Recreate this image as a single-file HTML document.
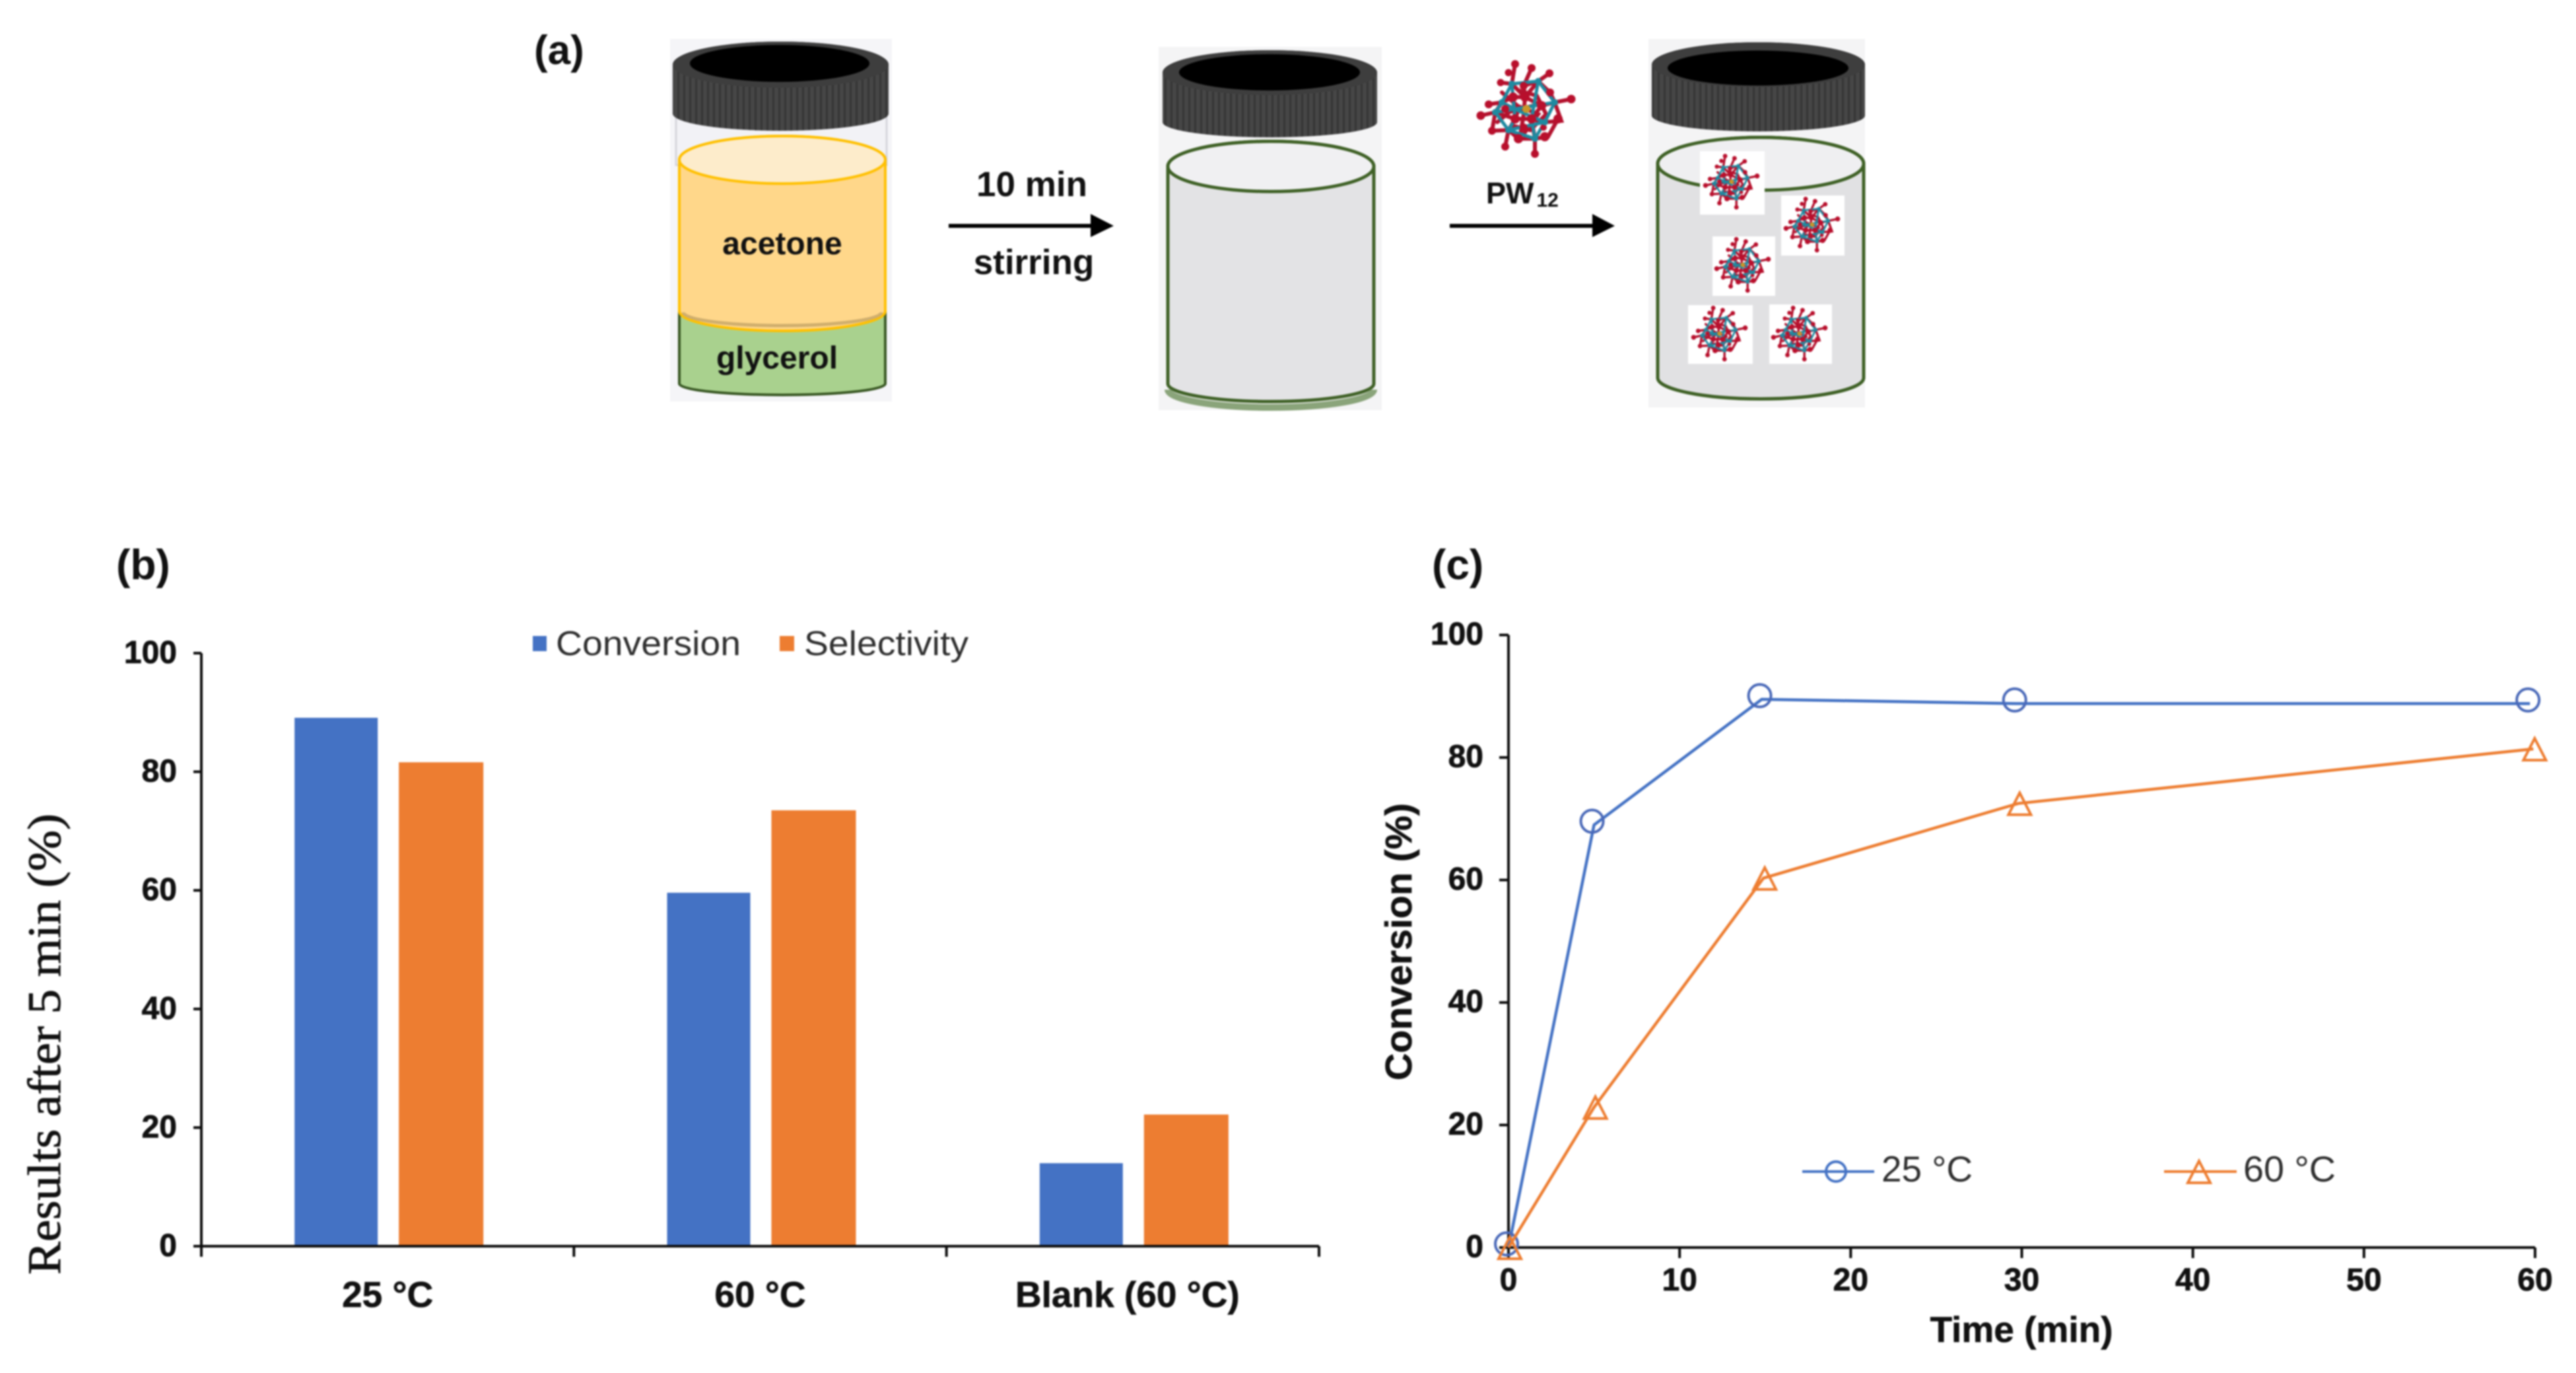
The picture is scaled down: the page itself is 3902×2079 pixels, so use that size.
<!DOCTYPE html>
<html lang="en">
<head>
<meta charset="utf-8">
<title>Glycerol acetalization scheme and results</title>
<style>
html,body{margin:0;padding:0;background:#fff;}
body{width:3902px;height:2079px;overflow:hidden;}
#figure{display:block;filter:blur(1.2px);}
text{font-family:"Liberation Sans",sans-serif;}
.tick{font-weight:bold;font-size:48px;fill:#111;stroke:#111;stroke-width:.8px;}
.cat{font-weight:bold;font-size:55px;fill:#111;stroke:#111;stroke-width:.6px;}
.lbl{font-weight:bold;fill:#111;stroke:#111;stroke-width:.6px;}
.leg{font-size:52px;fill:#2f2f2f;}
</style>
</head>
<body>
<svg id="figure" xmlns="http://www.w3.org/2000/svg" width="3902" height="2079" viewBox="0 0 3902 2079">
<defs>
  <pattern id="cap-ribs" width="9" height="10" patternUnits="userSpaceOnUse">
    <rect width="9" height="10" fill="#474747"/>
    <rect width="3" height="10" fill="#353535"/>
  </pattern>
  <symbol id="pw12-molecule" viewBox="0 0 170 165">
    <g fill="none" stroke="#b3122e" stroke-width="6" stroke-linecap="round">
      <path d="M65 12L60 42L43 40M90 18L78 45L100 38L117 26M25 73L45 70L35 85L13 90M150 65L125 70L135 98L110 100M50 137L55 112L30 113L35 85M95 148L95 125L115 122L130 95"/>
      <path d="M60 42L80 62L100 38L118 55L125 70M45 70L62 62L80 62L105 75L125 70M35 85L65 95L90 95L110 100M55 112L70 125L95 125M62 62L65 95L55 112M105 75L90 95L95 125M78 45L80 62L78 88L72 125"/>
      <path d="M45 55L72 78L60 105L88 112L112 88L98 60L70 52M38 100L68 75L100 88L78 118M55 85L92 75"/>
    </g>
    <g fill="none" stroke="#1f8aa0" stroke-width="5" stroke-linecap="round">
      <path d="M60 42L100 38L125 70L110 100L95 125L55 112L35 85L45 70Z"/>
      <path d="M45 70L75 85L110 100M60 42L65 95L55 112M100 38L90 95L95 125M35 85L125 70M55 112L110 100"/>
    </g>
    <g fill="#b80f2c">
      <circle cx="65" cy="12" r="6"/><circle cx="90" cy="18" r="6"/><circle cx="117" cy="26" r="6"/>
      <circle cx="55" cy="25" r="5.5"/><circle cx="43" cy="40" r="5.5"/><circle cx="25" cy="73" r="6"/>
      <circle cx="13" cy="90" r="6.5"/><circle cx="150" cy="65" r="6.5"/><circle cx="50" cy="137" r="6"/>
      <circle cx="95" cy="148" r="6"/><circle cx="110" cy="122" r="7"/><circle cx="130" cy="95" r="7"/>
      <circle cx="30" cy="113" r="6"/><circle cx="62" cy="62" r="7"/><circle cx="80" cy="62" r="7"/>
      <circle cx="105" cy="75" r="7"/><circle cx="65" cy="95" r="7"/><circle cx="90" cy="95" r="7"/>
      <circle cx="70" cy="125" r="7"/><circle cx="118" cy="55" r="6"/><circle cx="78" cy="45" r="6"/>
      <circle cx="50" cy="80" r="6"/><circle cx="78" cy="108" r="6"/><circle cx="108" cy="108" r="5"/>
    </g>
    <g fill="#1f8aa0">
      <circle cx="60" cy="42" r="5"/><circle cx="100" cy="38" r="5"/><circle cx="45" cy="70" r="5"/>
      <circle cx="35" cy="85" r="5"/><circle cx="125" cy="70" r="5"/><circle cx="55" cy="112" r="5"/>
      <circle cx="95" cy="125" r="5"/><circle cx="110" cy="100" r="5"/>
    </g>
    <circle cx="82" cy="80" r="6" fill="#c8962a"/>
  </symbol>
</defs>

<g id="panel-a">
  <text x="809" y="97" font-size="62" font-weight="bold" fill="#111">(a)</text>

  <g>
    <rect x="1015" y="59" width="336" height="549" fill="#f5f5f8"/>
    <rect x="1024" y="160" width="319" height="90" fill="#f2f2f6" stroke="#d5d5dc" stroke-width="3"/>
    <path d="M1029 471L1341 471L1341 581A156 17 0 0 1 1029 581Z" fill="#a9d18e" stroke="#385723" stroke-width="4"/>
    <path d="M1029 242A156 36 0 0 1 1341 242L1341 471A156 30 0 0 1 1029 471Z" fill="#ffd78a" stroke="#ffc000" stroke-width="4"/>
    <ellipse cx="1185" cy="242" rx="156" ry="36" fill="#fdeccb" stroke="#ffc000" stroke-width="4"/>
    <path d="M1035 473A150 20 0 0 0 1335 473" fill="none" stroke="#cfae6d" stroke-width="5"/>
    <path d="M1019 98A163.5 35 0 0 1 1346 98L1346 172A163.5 26 0 0 1 1019 172Z" fill="url(#cap-ribs)"/>
    <path d="M1019 98A163.5 35 0 0 1 1346 98A163.5 35 0 0 1 1019 98Z" fill="#3e3e3e"/>
    <ellipse cx="1181" cy="96" rx="136" ry="28" fill="#000"/>
    <text x="1185" y="385" text-anchor="middle" font-size="48" font-weight="bold" fill="#111">acetone</text>
    <text x="1177" y="558" text-anchor="middle" font-size="48" font-weight="bold" fill="#111">glycerol</text>
  </g>

  <g>
    <text x="1563" y="297" text-anchor="middle" font-size="53" font-weight="bold" fill="#111">10 min</text>
    <path d="M1437 342L1655 342" stroke="#000" stroke-width="6"/>
    <path d="M1652 324L1687 342L1652 359Z" fill="#000"/>
    <text x="1566" y="415" text-anchor="middle" font-size="53" font-weight="bold" fill="#111">stirring</text>
  </g>

  <g>
    <rect x="1755" y="71" width="338" height="550" fill="#f4f4f5"/>
    <path d="M1769 252A156 38 0 0 1 2081 252L2081 581A156 27 0 0 1 1769 581Z" fill="#e3e3e5" stroke="#3f6126" stroke-width="5"/>
    <path d="M1769 590A156 27 0 0 0 2081 590" fill="none" stroke="#8aa47a" stroke-width="10"/>
    <ellipse cx="1925" cy="252" rx="156" ry="38" fill="#f0f0f2" stroke="#3f6126" stroke-width="5"/>
    <path d="M1761 110A162.5 34 0 0 1 2086 110L2086 185A162.5 23 0 0 1 1761 185Z" fill="url(#cap-ribs)"/>
    <path d="M1761 110A162.5 34 0 0 1 2086 110A162.5 34 0 0 1 1761 110Z" fill="#3e3e3e"/>
    <ellipse cx="1923" cy="109.5" rx="137" ry="27.5" fill="#000"/>
  </g>

  <g>
    <use href="#pw12-molecule" x="2230" y="85" width="170" height="165"/>
    <text x="2251" y="308" font-size="45" font-weight="bold" fill="#111">PW<tspan font-size="30" dy="5" dx="4">12</tspan></text>
    <path d="M2196 342L2415 342" stroke="#000" stroke-width="6"/>
    <path d="M2412 324L2446 342L2412 359Z" fill="#000"/>
  </g>

  <g>
    <rect x="2497" y="59" width="328" height="558" fill="#f4f4f5"/>
    <path d="M2511 248A156 40 0 0 1 2823 248L2823 572A156 32 0 0 1 2511 572Z" fill="#e1e1e3" stroke="#3f6126" stroke-width="5"/>
    <ellipse cx="2667" cy="248" rx="156" ry="40" fill="#efeff1" stroke="#3f6126" stroke-width="5"/>
    <path d="M2502 98A161.5 34 0 0 1 2825 98L2825 175A161.5 24 0 0 1 2502 175Z" fill="url(#cap-ribs)"/>
    <path d="M2502 98A161.5 34 0 0 1 2825 98A161.5 34 0 0 1 2502 98Z" fill="#3e3e3e"/>
    <ellipse cx="2663" cy="103" rx="137" ry="26.5" fill="#000"/>
    <rect x="2575" y="229" width="98" height="96" fill="#fff"/>
    <rect x="2698" y="296" width="96" height="91" fill="#fff"/>
    <rect x="2594" y="358" width="95" height="90" fill="#fff"/>
    <rect x="2557" y="462" width="98" height="89" fill="#fff"/>
    <rect x="2680" y="461" width="95" height="90" fill="#fff"/>
    <use href="#pw12-molecule" x="2576" y="229" width="97" height="95"/>
    <use href="#pw12-molecule" x="2698" y="294" width="97" height="95"/>
    <use href="#pw12-molecule" x="2593" y="355" width="97" height="95"/>
    <use href="#pw12-molecule" x="2558" y="459" width="97" height="95"/>
    <use href="#pw12-molecule" x="2679" y="459" width="97" height="95"/>
  </g>
</g>

<g id="panel-b"></g>
<g id="panel-c"></g>
</svg>

<script>
/* ---- Panel (b) data ---- */
const barCategories = ['25 °C', '60 °C', 'Blank (60 °C)'];
const conversionValues = [89.1, 59.6, 14.0];
const selectivityValues = [81.6, 73.5, 22.2];
const barTicks = [0, 20, 40, 60, 80, 100];

/* ---- Panel (c) data ---- */
const timesLow = [0, 5, 14.8, 29.7, 59.7];
const conversionLow = [0, 69, 89.5, 88.8, 88.8];
const timesHigh = [0, 5, 14.9, 29.8, 59.9];
const conversionHigh = [0, 22.9, 60.3, 72.5, 81.4];
const timeTicks = [0, 10, 20, 30, 40, 50, 60];
const conversionTicks = [0, 20, 40, 60, 80, 100];

const SVGNS = 'http://www.w3.org/2000/svg';
const BLUE = '#4472c4';
const ORANGE = '#ed7d31';
const AXIS = '#0c0c0c';

function mk(parent, tag, attrs, txt) {
  const e = document.createElementNS(SVGNS, tag);
  for (const k in attrs) e.setAttribute(k, attrs[k]);
  if (txt !== undefined) e.textContent = txt;
  parent.appendChild(e);
  return e;
}

/* ---------- bar chart ---------- */
(function () {
  const g = document.getElementById('panel-b');
  const left = 305, right = 1998, y0 = 1887, y100 = 989;
  const yB = v => y0 - (v / 100) * (y0 - y100);
  const band = (right - left) / barCategories.length;
  const cx = i => left + band * (i + 0.5);
  let el;

  el = mk(g, 'text', {x: 176, y: 877, 'font-size': 64, 'font-weight': 'bold', fill: '#111'}, '(b)');
  
  

  barCategories.forEach((c, i) => {
    el = mk(g, 'rect', {x: cx(i) - 141, y: yB(conversionValues[i]), width: 126, height: y0 - yB(conversionValues[i]), fill: BLUE});
    
    
    el = mk(g, 'rect', {x: cx(i) + 17, y: yB(selectivityValues[i]), width: 128, height: y0 - yB(selectivityValues[i]), fill: ORANGE});
    
    
    el = mk(g, 'text', {class: 'cat', x: cx(i) - (i === 2 ? 8 : 0), y: 1979, 'text-anchor': 'middle'}, c);
    
    
  });

  el = mk(g, 'path', {d: `M${left} ${y100}V${y0}H${right}`, fill: 'none', stroke: AXIS, 'stroke-width': 4});
  
  

  barTicks.forEach(t => {
    el = mk(g, 'line', {x1: left - 12, x2: left, y1: yB(t), y2: yB(t), stroke: AXIS, 'stroke-width': 4});
    
    
    el = mk(g, 'text', {class: 'tick', x: 268, y: yB(t) + 15, 'text-anchor': 'end'}, String(t));
    
    
  });
  for (let i = 0; i <= barCategories.length; i++) {
    el = mk(g, 'line', {x1: left + band * i, x2: left + band * i, y1: y0, y2: y0 + 16, stroke: AXIS, 'stroke-width': 4});
    
    
  }

  el = mk(g, 'text', {x: 0, y: 0, transform: 'translate(91 1581) rotate(-90)', 'text-anchor': 'middle', 'font-size': 71, fill: '#111', stroke: '#111', 'stroke-width': 0.9, textLength: 698, lengthAdjust: 'spacingAndGlyphs', style: 'font-family:"Liberation Serif",serif'}, 'Results after 5 min (%)');
  
  

  el = mk(g, 'rect', {x: 807, y: 963, width: 21, height: 23, fill: BLUE});
  
  
  el = mk(g, 'text', {class: 'leg', x: 842, y: 992, textLength: 280, lengthAdjust: 'spacingAndGlyphs'}, 'Conversion');
  
  
  el = mk(g, 'rect', {x: 1181, y: 963, width: 22, height: 23, fill: ORANGE});
  
  
  el = mk(g, 'text', {class: 'leg', x: 1218, y: 992, textLength: 249, lengthAdjust: 'spacingAndGlyphs'}, 'Selectivity');
  
  
})();

/* ---------- line chart ---------- */
(function () {
  const g = document.getElementById('panel-c');
  const left = 2285, right = 3840, y0 = 1889, y100 = 961.5;
  const xC = t => left + (t / 60) * (right - left);
  const yC = v => y0 - (v / 100) * (y0 - y100);
  const pts = (xs, ys) => xs.map((t, i) => xC(t) + ',' + yC(ys[i])).join(' ');
  const tri = (x, y) => `${x},${y - 16} ${x + 17},${y + 17} ${x - 17},${y + 17}`;
  let el;

  el = mk(g, 'text', {x: 2169, y: 877, 'font-size': 64, 'font-weight': 'bold', fill: '#111'}, '(c)');
  
  

  el = mk(g, 'path', {d: `M${left} ${y100}V${y0}H${right}`, fill: 'none', stroke: AXIS, 'stroke-width': 4});
  
  

  conversionTicks.forEach(t => {
    el = mk(g, 'line', {x1: left - 14, x2: left, y1: yC(t), y2: yC(t), stroke: AXIS, 'stroke-width': 4});
    
    
    el = mk(g, 'text', {class: 'tick', x: 2247, y: yC(t) + 14.5, 'text-anchor': 'end'}, String(t));
    
    
  });
  timeTicks.forEach(t => {
    el = mk(g, 'line', {x1: xC(t), x2: xC(t), y1: y0, y2: y0 + 16, stroke: AXIS, 'stroke-width': 4});
    
    
    el = mk(g, 'text', {class: 'tick', x: xC(t), y: 1954, 'text-anchor': 'middle'}, String(t));
    
    
  });

  el = mk(g, 'polyline', {points: pts(timesLow, conversionLow), fill: 'none', stroke: BLUE, 'stroke-width': 4.5, 'stroke-linejoin': 'round'});
  
  
  timesLow.forEach((t, i) => {
    el = mk(g, 'circle', {cx: xC(t) - 3, cy: yC(conversionLow[i]) - 5.5, r: 17, fill: 'none', stroke: '#4a69b8', 'stroke-width': 4});
    
    
  });

  el = mk(g, 'polyline', {points: pts(timesHigh, conversionHigh), fill: 'none', stroke: ORANGE, 'stroke-width': 4.5, 'stroke-linejoin': 'round'});
  
  
  timesHigh.forEach((t, i) => {
    el = mk(g, 'polygon', {points: tri(xC(t) + 2, yC(conversionHigh[i])), fill: 'none', stroke: ORANGE, 'stroke-width': 4, 'stroke-linejoin': 'miter'});
    
    
  });

  el = mk(g, 'text', {class: 'lbl', x: 0, y: 0, transform: 'translate(2138 1426) rotate(-90)', 'text-anchor': 'middle', 'font-size': 57, textLength: 420, lengthAdjust: 'spacingAndGlyphs'}, 'Conversion (%)');
  
  
  el = mk(g, 'text', {class: 'lbl', x: 3062, y: 2032, 'text-anchor': 'middle', 'font-size': 55}, 'Time (min)');
  
  

  /* legend */
  el = mk(g, 'line', {x1: 2730, x2: 2839, y1: 1774, y2: 1774, stroke: BLUE, 'stroke-width': 4});
  
  
  el = mk(g, 'circle', {cx: 2781, cy: 1774, r: 15, fill: 'none', stroke: BLUE, 'stroke-width': 4});
  
  
  el = mk(g, 'text', {class: 'leg', x: 2850, y: 1789, style: 'font-size:55px', textLength: 138, lengthAdjust: 'spacingAndGlyphs'}, '25 °C');
  
  

  el = mk(g, 'line', {x1: 3278, x2: 3388, y1: 1774, y2: 1774, stroke: ORANGE, 'stroke-width': 4});
  
  
  el = mk(g, 'polygon', {points: tri(3331, 1774), fill: 'none', stroke: ORANGE, 'stroke-width': 4});
  
  
  el = mk(g, 'text', {class: 'leg', x: 3398, y: 1789, style: 'font-size:55px', textLength: 140, lengthAdjust: 'spacingAndGlyphs'}, '60 °C');
  
  
})();
</script>
</body>
</html>
